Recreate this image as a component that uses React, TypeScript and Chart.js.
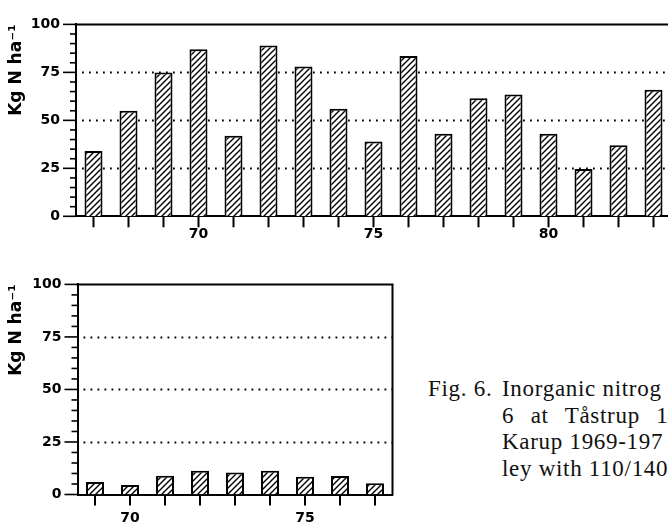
import React, { useEffect, useRef } from 'react';
import { Chart, registerables } from 'chart.js';

Chart.register(...registerables);

// ---- data ----
const topYears = [1967, 1968, 1969, 1970, 1971, 1972, 1973, 1974, 1975, 1976, 1977, 1978, 1979, 1980, 1981, 1982, 1983];
const topValues = [34, 55, 75, 87, 42, 89, 78, 56, 39, 83.5, 43, 61.5, 63.5, 43, 24.7, 37, 66];
const bottomYears = [1969, 1970, 1971, 1972, 1973, 1974, 1975, 1976, 1977];
const bottomValues = [5.9, 4.5, 8.9, 11.3, 10.5, 11.3, 8.4, 8.8, 5.3];
const yMin = 0;
const yMax = 100;
const yStep = 25;
const yMinorStep = 5;
const gridValues = [25, 50, 75];
const labelEvery = 5;
const yTitle = 'Kg N ha⁻¹';
const captionLead = 'Fig. 6.';
const captionLines = ['Inorganic nitrog', '6 at Tåstrup 1', 'Karup 1969-197', 'ley with 110/140'];

const tickFont = { family: 'DejaVu Sans', weight: 'bold' as const, size: 14 };
const titleFont = { family: 'DejaVu Sans', weight: 'bold' as const, size: 17 };

function makeHatch(): CanvasPattern | string {
  const c = document.createElement('canvas');
  const s = 6;
  c.width = s;
  c.height = s;
  const g = c.getContext('2d');
  if (!g) return '#fff';
  g.fillStyle = '#fff';
  g.fillRect(0, 0, s, s);
  g.strokeStyle = '#000';
  g.lineWidth = 1.4;
  g.beginPath();
  g.moveTo(0, s);
  g.lineTo(s, 0);
  g.moveTo(-1, 1);
  g.lineTo(1, -1);
  g.moveTo(s - 1, s + 1);
  g.lineTo(s + 1, s - 1);
  g.stroke();
  const p = g.createPattern(c, 'repeat');
  return p || '#fff';
}

const axisDecor = {
  id: 'axisDecor',
  beforeDatasetsDraw(chart: any) {
    const { ctx, chartArea } = chart;
    const y = chart.scales.y;
    ctx.save();
    ctx.strokeStyle = '#000';
    ctx.lineWidth = 1.8;
    ctx.setLineDash([1.8, 5.2]);
    for (const v of gridValues) {
      const py = Math.round(y.getPixelForValue(v)) + 0.5;
      ctx.beginPath();
      ctx.moveTo(chartArea.left + 6, py);
      ctx.lineTo(chartArea.right, py);
      ctx.stroke();
    }
    ctx.restore();
  },
  afterDraw(chart: any, _args: any, opts: any) {
    const { ctx, chartArea } = chart;
    const y = chart.scales.y;
    const x = chart.scales.x;
    ctx.save();
    ctx.strokeStyle = '#000';
    ctx.setLineDash([]);
    // y ticks (major + minor)
    ctx.lineWidth = 1.6;
    for (let v = yMin; v <= yMax; v += yMinorStep) {
      const py = y.getPixelForValue(v);
      const len = v % yStep === 0 ? 13 : 6;
      ctx.beginPath();
      ctx.moveTo(chartArea.left - len, py);
      ctx.lineTo(chartArea.left, py);
      ctx.stroke();
    }
    // x ticks at each bar
    ctx.lineWidth = 2;
    const n = chart.data.labels.length;
    for (let i = 0; i < n; i++) {
      const px = x.getPixelForValue(i);
      ctx.beginPath();
      ctx.moveTo(px, chartArea.bottom);
      ctx.lineTo(px, chartArea.bottom + 11);
      ctx.stroke();
    }
    // frame
    ctx.lineWidth = 2;
    ctx.beginPath();
    ctx.moveTo(chartArea.left - 1, chartArea.top);
    ctx.lineTo(chartArea.right + 1, chartArea.top);
    if (opts && opts.right) {
      ctx.moveTo(chartArea.right, chartArea.top);
      ctx.lineTo(chartArea.right, chartArea.bottom + 1);
    }
    ctx.stroke();
    ctx.restore();
  },
};

type Geom = {
  width: number;
  height: number;
  padTop: number;
  padRight: number;
  yWidth: number;
  xHeight: number;
  xPad: number;
  right: boolean;
};

function BarPanel({ years, values, geom, style }: { years: number[]; values: number[]; geom: Geom; style: React.CSSProperties }) {
  const ref = useRef<HTMLCanvasElement | null>(null);
  useEffect(() => {
    if (!ref.current) return;
    const hatch = makeHatch();
    const chart = new Chart(ref.current, {
      type: 'bar',
      data: {
        labels: years.map(String),
        datasets: [
          {
            data: values,
            backgroundColor: hatch as any,
            borderColor: '#000',
            borderWidth: 2,
            barPercentage: 0.514,
            categoryPercentage: 1,
          },
        ],
      },
      options: {
        responsive: false,
        maintainAspectRatio: false,
        animation: false,
        events: [],
        layout: { padding: { top: geom.padTop, right: geom.padRight, left: 0, bottom: 0 } },
        plugins: {
          legend: { display: false },
          tooltip: { enabled: false },
          axisDecor: { right: geom.right },
        } as any,
        scales: {
          x: {
            type: 'category',
            offset: true,
            grid: { display: false, drawTicks: false },
            border: { display: true, color: '#000', width: 2 },
            ticks: {
              autoSkip: false,
              maxRotation: 0,
              minRotation: 0,
              padding: geom.xPad,
              color: '#000',
              font: tickFont,
              callback: (_v: any, i: number) => (years[i] % labelEvery === 0 ? String(years[i]).slice(2) : ''),
            },
            afterFit: (s: any) => {
              s.height = geom.xHeight;
            },
          },
          y: {
            min: yMin,
            max: yMax,
            grid: { display: false, drawTicks: false },
            border: { display: true, color: '#000', width: 2 },
            ticks: { stepSize: yStep, padding: 16, color: '#000', font: tickFont },
            title: {
              display: true,
              text: yTitle,
              align: 'end',
              color: '#000',
              font: titleFont,
              padding: { top: 6, bottom: 0 },
            },
            afterFit: (s: any) => {
              s.width = geom.yWidth;
            },
          },
        },
      },
      plugins: [axisDecor],
    } as any);
    return () => chart.destroy();
  }, []);
  return (
    <canvas
      ref={ref}
      width={geom.width}
      height={geom.height}
      style={{ position: 'absolute', width: geom.width, height: geom.height, ...style }}
    />
  );
}

const captionStyle: React.CSSProperties = {
  position: 'absolute',
  fontFamily: '"Liberation Serif", "Times New Roman", serif',
  fontSize: 23,
  lineHeight: '23px',
  letterSpacing: 0.7,
  whiteSpace: 'pre',
  color: '#111',
};

export default function App() {
  const topGeom: Geom = { width: 700, height: 260, padTop: 10.5, padRight: 29, yWidth: 76, xHeight: 43.7, xPad: 10, right: false };
  const bottomGeom: Geom = { width: 420, height: 265, padTop: 23.3, padRight: 27.5, yWidth: 77.5, xHeight: 30.5, xPad: 15, right: true };
  const lineTops = [377, 403.5, 430, 456.5];
  return (
    <div
      style={{
        position: 'fixed',
        left: 0,
        top: 0,
        width: 668,
        height: 525,
        overflow: 'hidden',
        background: '#fff',
      }}
    >
      <BarPanel years={topYears} values={topValues} geom={topGeom} style={{ left: 0, top: 0 }} />
      <BarPanel years={bottomYears} values={bottomValues} geom={bottomGeom} style={{ left: 0, top: 260 }} />
      <div style={{ ...captionStyle, left: 428, top: lineTops[0] }}>{captionLead}</div>
      {captionLines.map((t, i) => (
        <div
          key={i}
          style={{ ...captionStyle, left: 502, top: lineTops[i], wordSpacing: i === 1 ? 10 : 0 }}
        >
          {t}
        </div>
      ))}
    </div>
  );
}
